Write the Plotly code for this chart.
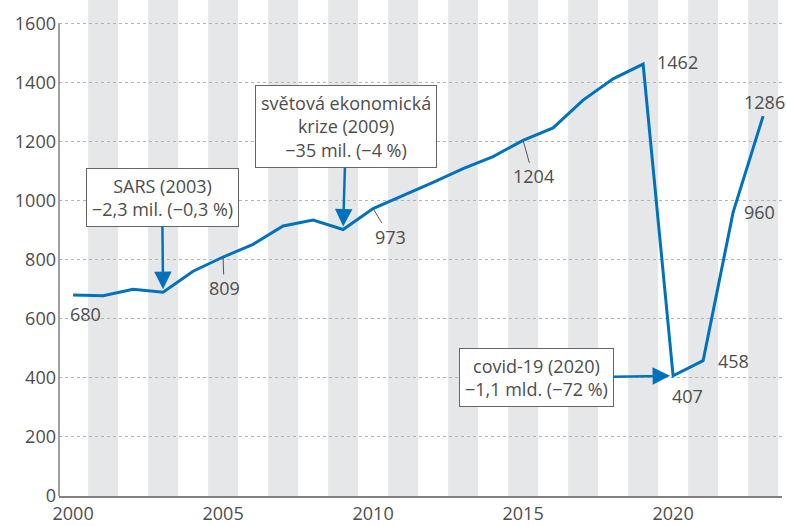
import plotly.graph_objects as go

years = list(range(2000, 2024))
arrivals = [680, 678, 700, 690, 761, 809, 852, 914, 934, 902, 973, 1017, 1062,
            1108, 1149, 1204, 1246, 1340, 1412, 1462, 407, 458, 960, 1286]

# labelled points: year -> (text, xshift, yshift, xanchor)
point_labels = {
    2000: ('680', 12, -19, 'center'),
    2019: ('1462', 12, 2, 'left'),
    2020: ('407', 14, -20, 'center'),
    2021: ('458', 13, 0, 'left'),
    2022: ('960', 9, 0, 'left'),
    2023: ('1286', 1, 14, 'center'),
}
# labels with a short leader line: year -> (ax, ay)
leader_labels = {2005: (1, 31), 2010: (17, 28), 2015: (10, 36)}

events = [
    (2003, 'SARS (2003)<br>−2,3 mil. (−0,3 %)', -1, -95),
    (2009, 'světová ekonomická<br>krize (2009)<br>−35 mil. (−4 %)', 3, -103),
    (2020, 'covid-19 (2020)<br>−1,1 mld. (−72 %)', -137, 2),
]

BLUE = '#0072bc'
TEXT = '#4d4d4d'
FONT = 'Open Sans'
FS = 18

fig = go.Figure()

# alternating grey year bands (odd years)
for yr in years:
    if yr % 2 == 1:
        fig.add_shape(type='rect', xref='x', yref='y', x0=yr - 0.5, x1=yr + 0.5,
                      y0=0, y1=1680, fillcolor='#e6e7e8', line_width=0, layer='below')

fig.add_trace(go.Scatter(x=years, y=arrivals, mode='lines',
                         line=dict(color=BLUE, width=3), hoverinfo='skip'))

val = dict(zip(years, arrivals))
for yr, (txt, xs, ys, xa) in point_labels.items():
    fig.add_annotation(x=yr, y=val[yr], text=txt, showarrow=False, xshift=xs,
                       yshift=ys, xanchor=xa, font=dict(size=FS, color=TEXT, family=FONT))

for yr, (ax, ay) in leader_labels.items():
    fig.add_annotation(x=yr, y=val[yr], text=str(val[yr]), showarrow=True, arrowhead=0,
                       arrowwidth=1, arrowcolor='#555555', ax=ax, ay=ay,
                       font=dict(size=FS, color=TEXT, family=FONT))

for yr, txt, ax, ay in events:
    fig.add_annotation(x=yr, y=val[yr], text=txt, showarrow=True, arrowhead=2,
                       arrowsize=1.4, arrowwidth=2.5, arrowcolor=BLUE, standoff=3,
                       ax=ax, ay=ay, bgcolor='white', bordercolor='#666666',
                       borderwidth=1, borderpad=5,
                       font=dict(size=FS, color=TEXT, family=FONT))

# y axis line only up to 1600
fig.add_shape(type='line', xref='paper', yref='y', x0=0, x1=0, y0=0, y1=1600,
              line=dict(color='#808080', width=1.5))

fig.update_xaxes(range=[1999.53, 2023.63], tickvals=[2000, 2005, 2010, 2015, 2020],
                 showgrid=False, zeroline=False, showline=True, linecolor='#808080',
                 linewidth=2, ticks='', ticklabelstandoff=0, automargin=False,
                 tickfont=dict(size=FS, color=TEXT, family=FONT))
fig.update_yaxes(range=[0, 1679], tickvals=list(range(0, 1601, 200)),
                 showgrid=True, gridcolor='#b4b4b4', griddash='3px,3px', gridwidth=1,
                 zeroline=False, showline=False, ticks='', ticklabelstandoff=2,
                 automargin=False, tickfont=dict(size=FS, color=TEXT, family=FONT))

fig.update_layout(width=786, height=526, margin=dict(l=59, r=4, t=0, b=30),
                  plot_bgcolor='white', paper_bgcolor='white', showlegend=False)

fig.write_html('out.html', config={'displayModeBar': False},
               post_script="document.body.style.margin='0';")
